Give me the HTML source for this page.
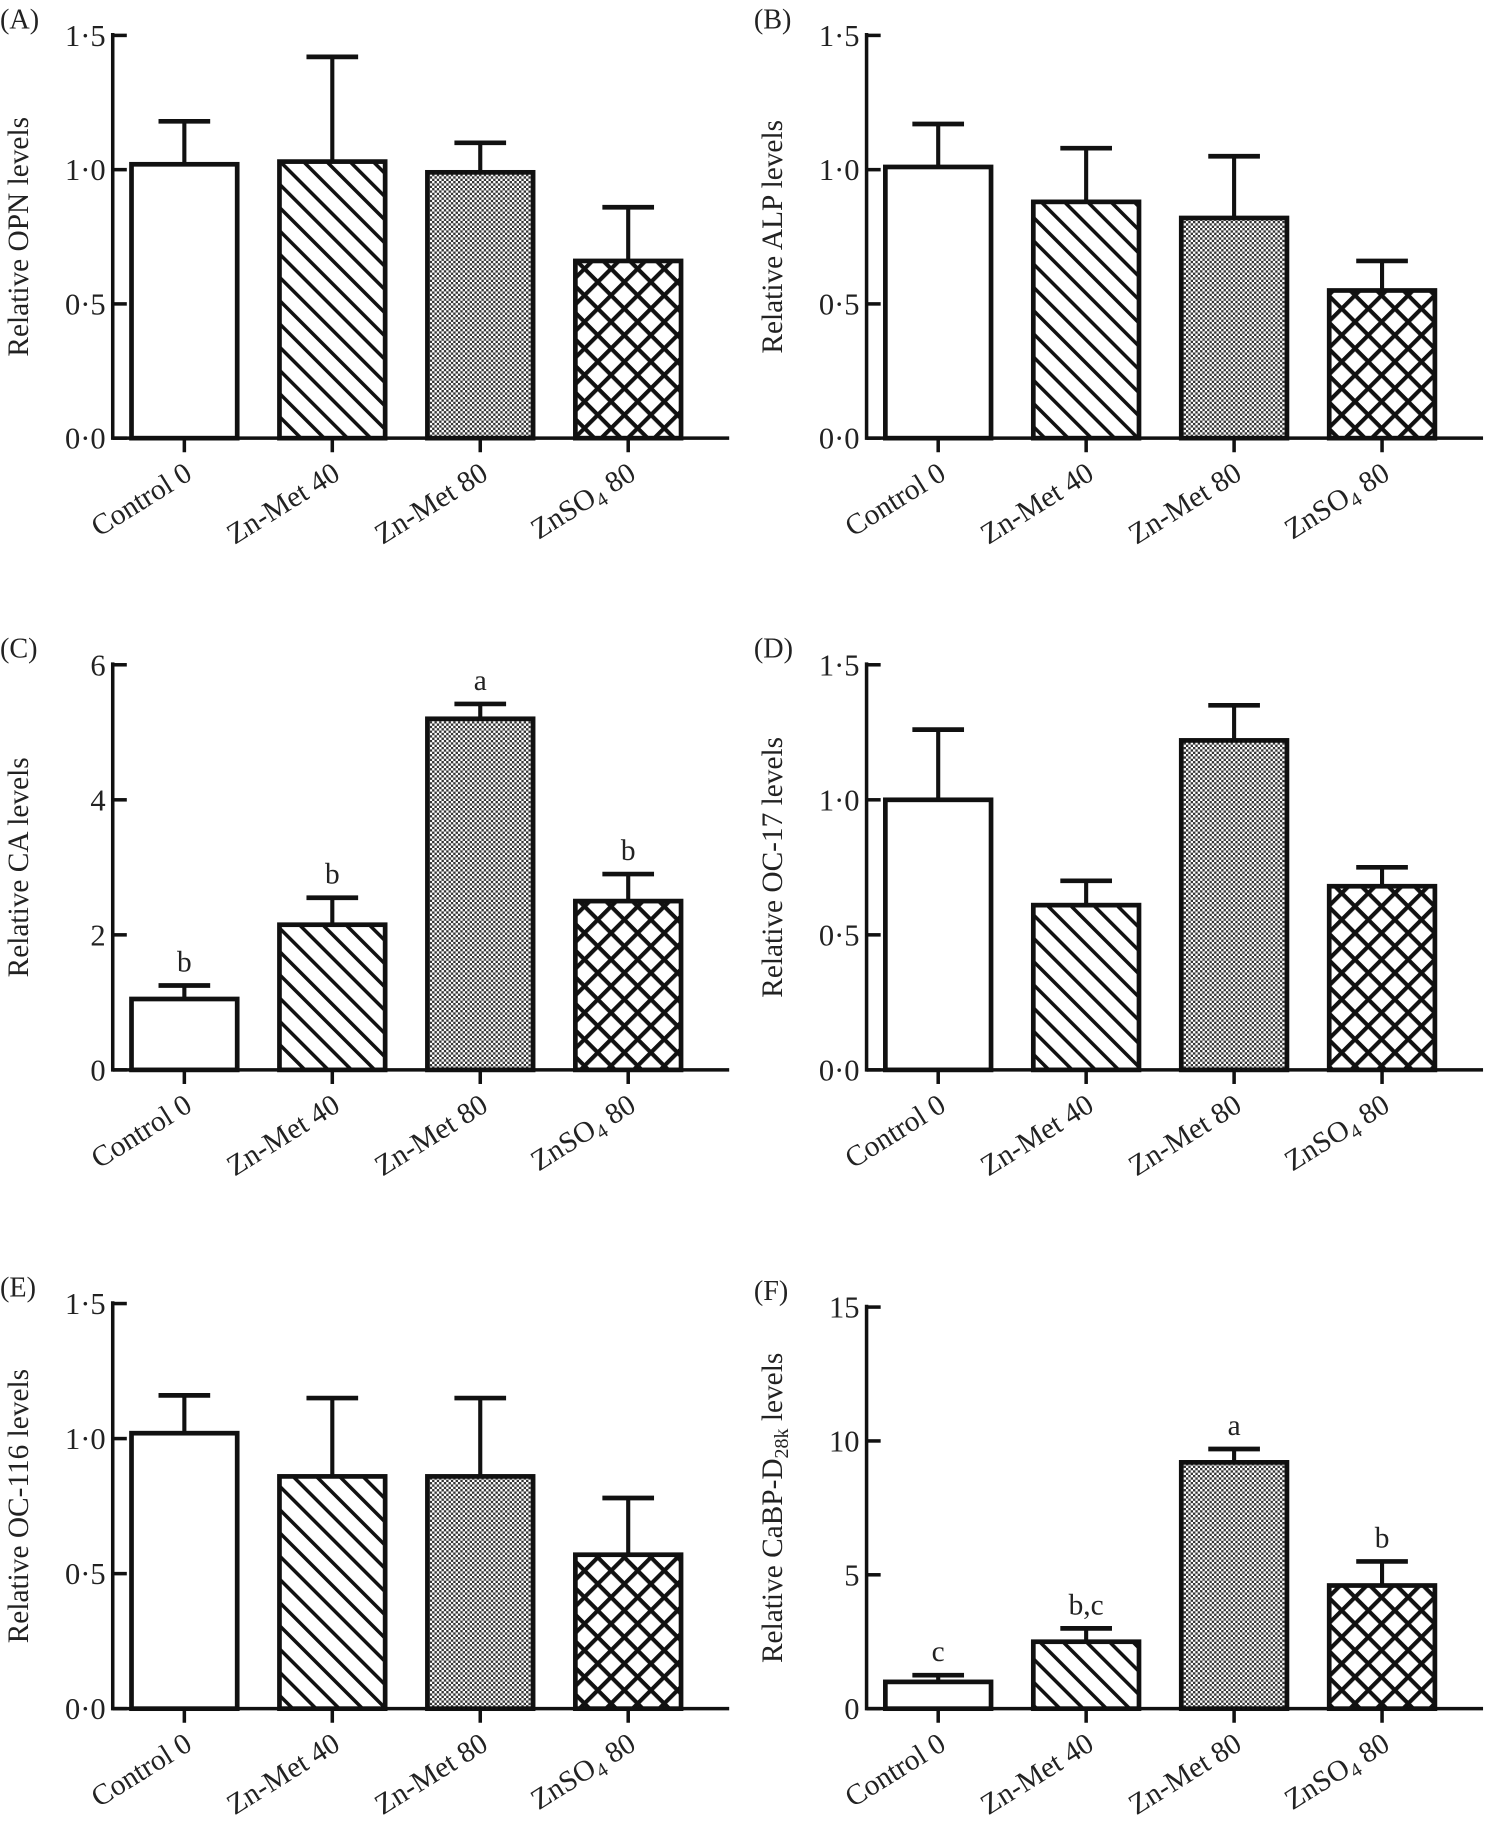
<!DOCTYPE html>
<html><head><meta charset="utf-8"><style>
html,body{margin:0;padding:0;background:#fff;}
svg text{font-family:"Liberation Serif",serif;fill:#222;}
</style></head><body>
<svg id="fig" width="1503" height="1838" viewBox="0 0 1280 1565" xmlns="http://www.w3.org/2000/svg">
<defs>
<pattern id="diag" patternUnits="userSpaceOnUse" width="14" height="14" patternTransform="rotate(-45)">
<rect width="14" height="14" fill="#fff"/><rect x="0" y="0" width="3" height="14" fill="#111"/></pattern>
<pattern id="dots" patternUnits="userSpaceOnUse" width="4" height="4">
<rect width="4" height="4" fill="#fff"/><rect width="2" height="2" fill="#333"/><rect x="2" y="2" width="2" height="2" fill="#333"/></pattern>
<pattern id="cross" patternUnits="userSpaceOnUse" width="16" height="16" patternTransform="rotate(45)">
<rect width="16" height="16" fill="#fff"/><rect width="3.5" height="16" fill="#111"/><rect width="16" height="3.5" fill="#111"/></pattern>
</defs>
</svg>
<script>
const categories=["Control 0","Zn-Met 40","Zn-Met 80","ZnSO4 80"];
const valsA=[1.02,1.03,0.99,0.66], errA=[1.18,1.42,1.10,0.86];
const valsB=[1.01,0.88,0.82,0.55], errB=[1.17,1.08,1.05,0.66];
const valsC=[1.05,2.15,5.2,2.5], errC=[1.25,2.55,5.42,2.9], lettersC=["b","b","a","b"];
const valsD=[1.0,0.61,1.22,0.68], errD=[1.26,0.70,1.35,0.75];
const valsE=[1.02,0.86,0.86,0.57], errE=[1.16,1.15,1.15,0.78];
const valsF=[1.0,2.5,9.2,4.6], errF=[1.25,3.0,9.7,5.5], lettersF=["c","b,c","a","b"];
const ticks15=["0·0","0·5","1·0","1·5"], ticksC=["0","2","4","6"], ticksF=["0","5","10","15"];

const NS="http://www.w3.org/2000/svg";
const svg=document.getElementById('fig');
function mk(tag,attrs,parent){const e=document.createElementNS(NS,tag);for(const k in attrs)e.setAttribute(k,attrs[k]);(parent||svg).appendChild(e);return e;}
const fills=["#fff","url(#diag)","url(#dots)","url(#cross)"];

function panel(id,ax,top,bot,ymax,tickLabels,title,vals,errs,letters){
  const g=mk('g',{});
  
  
  const y=v=>bot-(v/ymax)*(bot-top);
  const x=i=>ax+61+i*126;
  const lab=mk('text',{x:ax-96,y:top-6,'font-size':24},g);lab.textContent='('+id+')';
  
  
  vals.forEach((v,i)=>{
    const cx=x(i);
    const e=mk('line',{x1:cx,x2:cx,y1:y(v),y2:y(errs[i]),stroke:'#111','stroke-width':3.5},g);
    
    
    mk('line',{x1:cx-22,x2:cx+22,y1:y(errs[i]),y2:y(errs[i]),stroke:'#111','stroke-width':4},g);
    const r=mk('rect',{x:cx-45,y:y(v),width:90,height:bot-y(v),fill:fills[i],stroke:'#111','stroke-width':4},g);
    
    
    if(letters){const t=mk('text',{x:cx,y:y(errs[i])-12,'font-size':25,'text-anchor':'middle'},g);t.textContent=letters[i];
      
      }
    mk('line',{x1:cx,x2:cx,y1:bot,y2:bot+12,stroke:'#111','stroke-width':3},g);
    const tl=mk('text',{transform:`translate(${cx+8},${bot+34}) rotate(-32)`,'font-size':25,'text-anchor':'end'},g);
    if(categories[i]==="ZnSO4 80"){tl.innerHTML='ZnSO<tspan font-size="17" dy="5">4</tspan><tspan dy="-5"> 80</tspan>';}
    else tl.textContent=categories[i];
    
    
  });
  mk('line',{x1:ax,x2:ax,y1:top-2,y2:bot+1.5,stroke:'#111','stroke-width':3},g);
  mk('line',{x1:ax,x2:ax+525,y1:bot,y2:bot,stroke:'#111','stroke-width':3},g);
  tickLabels.forEach((t,i)=>{
    const v=i*ymax/(tickLabels.length-1);
    mk('line',{x1:ax,x2:ax+12,y1:y(v),y2:y(v),stroke:'#111','stroke-width':3},g);
    const tt=mk('text',{x:ax-6,y:y(v)+9,'font-size':26,'text-anchor':'end'},g);tt.textContent=t;
    
    
  });
  const yt=mk('text',{transform:`translate(${ax-72},${(top+bot)/2}) rotate(-90)`,'font-size':25,'text-anchor':'middle'},g);
  yt.innerHTML=title;
  
  
}
panel('A',96,30,373,1.5,ticks15,'Relative OPN levels',valsA,errA);
panel('B',738,30,373,1.5,ticks15,'Relative ALP levels',valsB,errB);
panel('C',96,566,911,6,ticksC,'Relative CA levels',valsC,errC,lettersC);
panel('D',738,566,911,1.5,ticks15,'Relative OC-17 levels',valsD,errD);
panel('E',96,1110,1455,1.5,ticks15,'Relative OC-116 levels',valsE,errE);
panel('F',738,1113,1455,15,ticksF,'Relative CaBP-D<tspan font-size="17" dy="5">28k</tspan><tspan dy="-5"> levels</tspan>',valsF,errF,lettersF);
</script>
</body></html>
